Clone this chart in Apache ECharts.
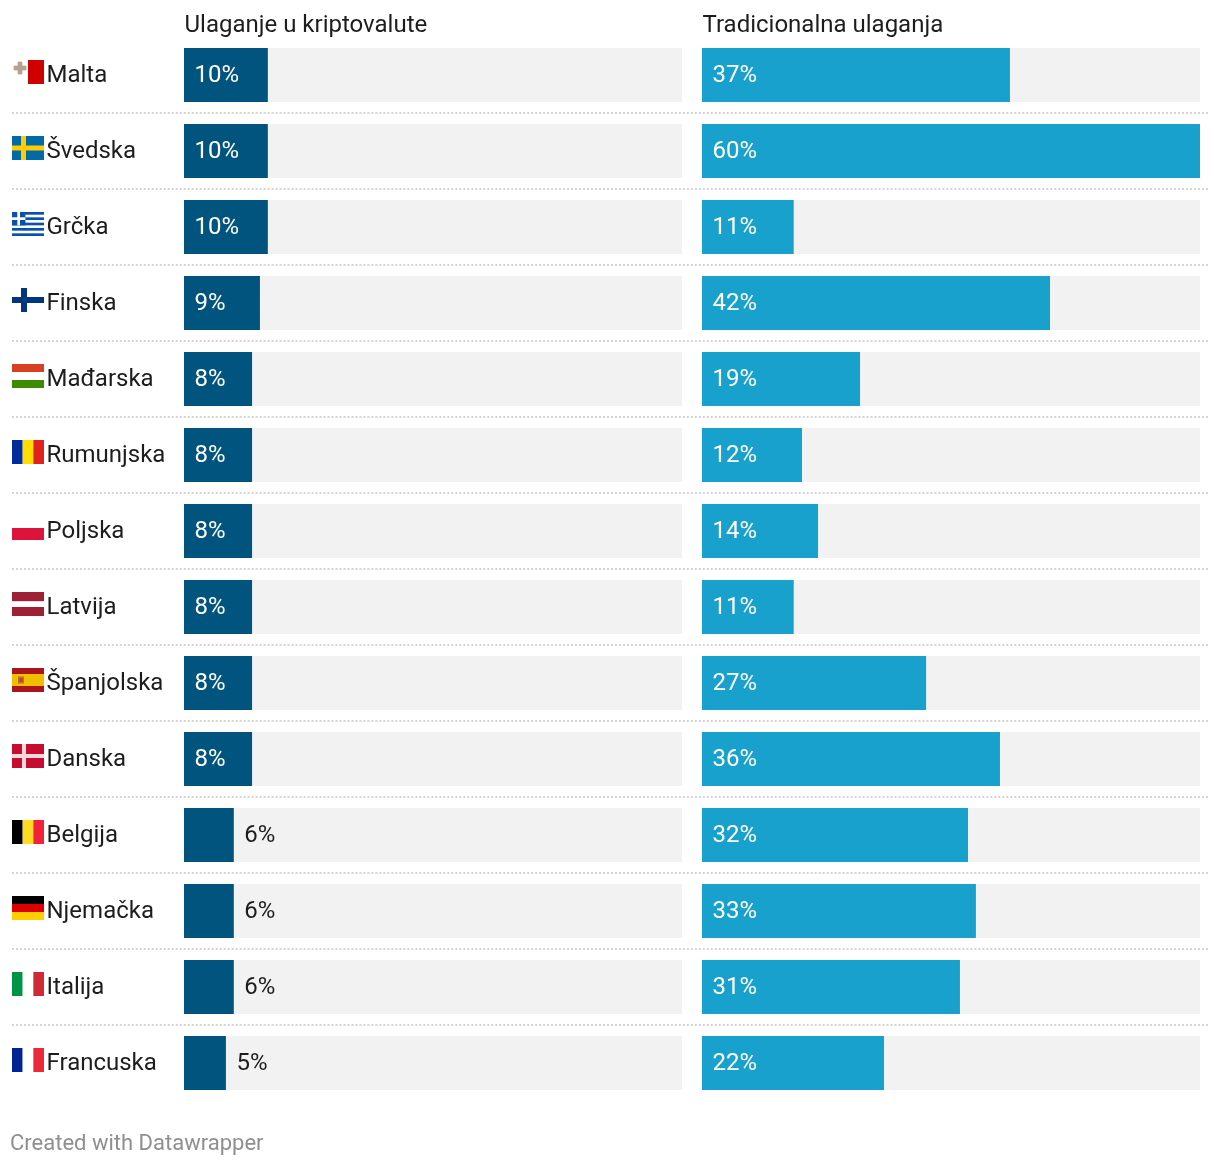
<!DOCTYPE html>
<html><head><meta charset="utf-8">
<style>html,body{margin:0;padding:0;background:#fff}#c{width:1220px;height:1166px}</style>
<script src="https://cdn.jsdelivr.net/npm/echarts@6/dist/echarts.min.js"></script>
</head><body><div id="c"></div>
<script>
const countries = ['Malta','Švedska','Grčka','Finska','Mađarska','Rumunjska','Poljska','Latvija','Španjolska','Danska','Belgija','Njemačka','Italija','Francuska'];
const crypto_ = [10.1,10.1,10.1,9.15,8.2,8.2,8.2,8.2,8.2,8.2,6,6,6,5.05];
const traditional = [37.1,60,11.05,41.93,19.04,12.05,13.98,11.05,27,35.9,32.05,33,31.08,21.93];
const headers = ['Ulaganje u kriptovalute','Tradicionalna ulaganja'];
const footer = 'Created with Datawrapper';

const F = 'Roboto, sans-serif';
const stripesH = (cols, w) => { const tw = w || cols.map(()=>1); const sum = tw.reduce((a,b)=>a+b); let y = 0, s = '';
  cols.forEach((c,i)=>{ const h = 24*tw[i]/sum; s += `<rect x="0" y="${y}" width="32" height="${h}" fill="${c}"/>`; y += h; }); return s; };
const stripesV = cols => cols.map((c,i)=>`<rect x="${i*32/3}" y="0" width="${32/3}" height="24" fill="${c}"/>`).join('');
const cross = (bg, fg, v, h, t) => `<rect width="32" height="24" fill="${bg}"/><rect x="${v}" width="${t}" height="24" fill="${fg}"/><rect y="${h}" width="32" height="${t}" fill="${fg}"/>`;
const greece = () => { let s = '<rect width="32" height="24" fill="#fff"/>';
  for (let i=0;i<9;i+=2) s += `<rect y="${i*24/9}" width="32" height="${24/9}" fill="#0a50ad"/>`;
  s += '<rect width="13.4" height="13.4" fill="#0a50ad"/><rect x="5.3" width="2.7" height="13.4" fill="#fff"/><rect y="5.3" width="13.4" height="2.7" fill="#fff"/>';
  return s; };
const flagSvgs = {
  'Malta': '<rect width="32" height="24" fill="#fff"/><rect x="16" width="16" height="24" fill="#cf0000"/><path d="M6 2h4v4h4v4h-4v4H6v-4H2V6h4z" fill="#a9a39c" stroke="#c9a27a" stroke-width=".8"/>',
  'Švedska': cross('#006aa7','#fecc00',9,9.5,5),
  'Grčka': greece(),
  'Finska': cross('#fff','#003580',9,9,6),
  'Mađarska': stripesH(['#d8401f','#fff','#3d8b00']),
  'Rumunjska': stripesV(['#002b9f','#ffdd00','#e2211c']),
  'Poljska': stripesH(['#fff','#dc143c']),
  'Latvija': stripesH(['#9e2035','#f3d0d6','#fff','#9e2035'],[9,1,5,9]),
  'Španjolska': stripesH(['#aa151b','#f1bf00','#aa151b'],[1,2,1]) + '<rect x="6" y="8.5" width="6" height="7" fill="#b5713a"/><rect x="7.5" y="10" width="3" height="4" fill="#c8402c"/>',
  'Danska': cross('#c60c30','#f3d9dc',10,10,4),
  'Belgija': stripesV(['#000','#fdda24','#ef2339']),
  'Njemačka': stripesH(['#000','#dd0000','#ffce00']),
  'Italija': stripesV(['#009246','#fff','#ce2b37']),
  'Francuska': stripesV(['#002395','#fff','#ed2939'])
};
const flagUri = n => 'image://data:image/svg+xml;charset=utf-8,' + encodeURIComponent(`<svg xmlns="http://www.w3.org/2000/svg" width="128" height="96" viewBox="0 0 32 24">${flagSvgs[n]}</svg>`);

const TOP = 37, H = 76*14;
const barSeries = (name, data, color, idx) => ({
  name, type:'bar', xAxisIndex:idx, yAxisIndex:idx, data: data.map(v => {
    const inside = Math.round(v) > 6;
    return { value:v, label:{ position: inside ? 'insideLeft' : 'right', distance:11, color: inside ? '#fff' : '#1d1d1d' } };
  }),
  barWidth:54, itemStyle:{color},
  showBackground:true, backgroundStyle:{color:'#f2f2f2'},
  label:{ show:true, fontFamily:F, fontSize:24, offset:[-0.5,1], formatter:p => Math.round(p.value)+'%' },
  silent:true, animation:false
});
const hiddenX = idx => ({ type:'value', gridIndex:idx, min:0, max:60, show:false });

const option = {
  backgroundColor:'#fff', animation:false,
  title: [
    { text:headers[0], left:179.5, top:9, textStyle:{fontFamily:F,fontSize:24,fontWeight:400,color:'#1d1d1d'} },
    { text:headers[1], left:697.5, top:9, textStyle:{fontFamily:F,fontSize:24,fontWeight:400,color:'#1d1d1d'} },
    { text:footer, left:5, top:1128, textStyle:{fontFamily:F,fontSize:22,fontWeight:400,color:'#8f8f8f'} }
  ],
  grid: [
    { left:184, width:498, top:TOP, height:H },
    { left:702, width:498, top:TOP, height:H },
    { left:12, width:1196, top:TOP, height:H }
  ],
  xAxis: [ hiddenX(0), hiddenX(1), { type:'value', gridIndex:2, min:0, max:1196, show:false } ],
  yAxis: [
    { type:'category', gridIndex:0, inverse:true, data:countries, axisLine:{show:false}, axisTick:{show:false},
      axisLabel:{ align:'left', margin:137.5, verticalAlign:'middle', formatter:v => `{n|${v}}`,
        rich:{ n:{ fontFamily:F, fontSize:24, color:'#1d1d1d', padding:[2,0,0,0] } } } },
    { type:'category', gridIndex:1, inverse:true, data:countries, show:false },
    { type:'category', gridIndex:2, inverse:true, data:countries, axisLine:{show:false}, axisTick:{show:false}, axisLabel:{show:false},
      splitLine:{ show:true, interval:0, showMinLine:false, showMaxLine:false, lineStyle:{color:'#d4d4d4', width:2, type:[2,1.9933]} } }
  ],
  series: [
    barSeries(headers[0], crypto_, '#01547d', 0),
    barSeries(headers[1], traditional, '#18a1cd', 1),
    { type:'scatter', xAxisIndex:2, yAxisIndex:2, silent:true, animation:false,
      symbolSize:[32,24], symbolOffset:[0,-3], itemStyle:{opacity:1},
      data: countries.map(n => ({ value:[16,n], symbol:flagUri(n) })) }
  ]
};
const chart = echarts.init(document.getElementById('c'), null, {renderer:'canvas'});
chart.setOption(option);
</script></body></html>
